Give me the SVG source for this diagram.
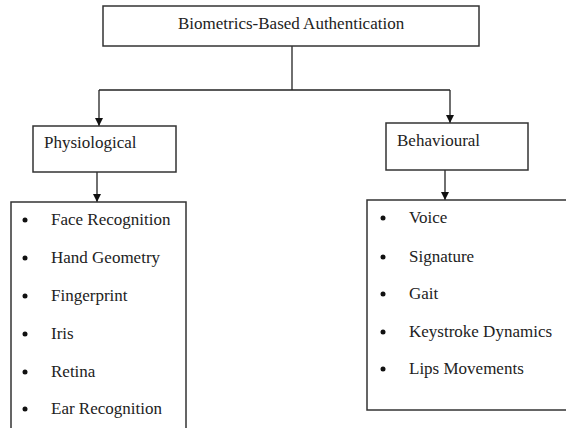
<svg xmlns="http://www.w3.org/2000/svg" width="566" height="428" viewBox="0 0 566 428">
<style>
.box{fill:#fff;stroke:#333;stroke-width:1.5}
.ln{fill:none;stroke:#222;stroke-width:1.3}
.t{font-family:'Liberation Serif',serif;font-size:17px;fill:#222}
.dot{fill:#111}
</style>
<defs>
<marker id="ah" viewBox="0 0 10 10" refX="10" refY="5" markerWidth="8" markerHeight="8" markerUnits="userSpaceOnUse" orient="auto">
<path d="M0,0 L10,5 L0,10 Z" fill="#111"/>
</marker>
</defs>
<rect width="566" height="428" fill="#fff"/>
<g id="connectors">
<line class="ln" x1="292" y1="46" x2="292" y2="90"/>
<line class="ln" x1="99" y1="90" x2="450" y2="90"/>
<line class="ln" x1="99" y1="90" x2="99" y2="126" marker-end="url(#ah)"/>
<line class="ln" x1="450" y1="90" x2="450" y2="123" marker-end="url(#ah)"/>
<line class="ln" x1="97" y1="172" x2="97" y2="202" marker-end="url(#ah)"/>
<line class="ln" x1="445" y1="170" x2="445" y2="200" marker-end="url(#ah)"/>
</g>
<g id="root">
<rect class="box" x="103" y="6" width="376" height="40"/>
<text class="t" x="178" y="29">Biometrics-Based Authentication</text>
</g>
<g id="physiological">
<rect class="box" x="33" y="126" width="143" height="46"/>
<text class="t" x="44" y="148">Physiological</text>
</g>
<g id="behavioural">
<rect class="box" x="386" y="123" width="142" height="47"/>
<text class="t" x="397" y="146">Behavioural</text>
</g>
<g id="physiological-list">
<rect class="box" x="11" y="202" width="175" height="230"/>
<circle class="dot" cx="25" cy="220" r="2.5"/><text class="t" x="51" y="225">Face Recognition</text>
<circle class="dot" cx="25" cy="258" r="2.5"/><text class="t" x="51" y="263">Hand Geometry</text>
<circle class="dot" cx="25" cy="296" r="2.5"/><text class="t" x="51" y="301">Fingerprint</text>
<circle class="dot" cx="25" cy="334" r="2.5"/><text class="t" x="51" y="339">Iris</text>
<circle class="dot" cx="25" cy="372" r="2.5"/><text class="t" x="51" y="377">Retina</text>
<circle class="dot" cx="25" cy="409" r="2.5"/><text class="t" x="51" y="414">Ear Recognition</text>
</g>
<g id="behavioural-list">
<rect class="box" x="367" y="200" width="205" height="210"/>
<circle class="dot" cx="383" cy="218" r="2.5"/><text class="t" x="409" y="223">Voice</text>
<circle class="dot" cx="383" cy="257" r="2.5"/><text class="t" x="409" y="262">Signature</text>
<circle class="dot" cx="383" cy="294" r="2.5"/><text class="t" x="409" y="299">Gait</text>
<circle class="dot" cx="383" cy="332" r="2.5"/><text class="t" x="409" y="337">Keystroke Dynamics</text>
<circle class="dot" cx="383" cy="369" r="2.5"/><text class="t" x="409" y="374">Lips Movements</text>
</g>
</svg>
